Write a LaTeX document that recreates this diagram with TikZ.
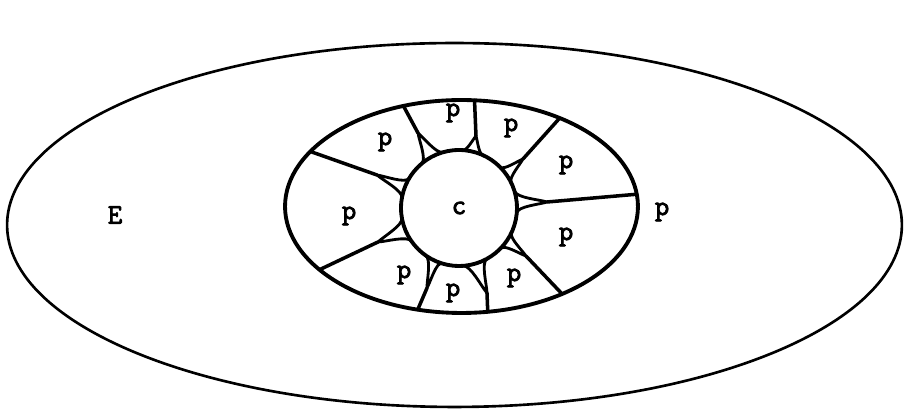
\documentclass[tikz,border=0pt]{standalone}
\usepackage{fontspec}
\newfontfamily\lblfont{Latin Modern Mono}[AutoFakeBold=3]
\usepackage{tikz}
\usetikzlibrary{shapes.geometric}

\begin{document}
\begin{tikzpicture}[x=0.02cm, y=0.02cm, line join=round, line cap=round,
        lbl/.style={font=\lblfont\bfseries\fontsize{16}{18}\selectfont},
        divider/.style={line width=2pt},
        branch/.style={line width=1.6pt, looseness=0.55}]
        \useasboundingbox (-459,-203) rectangle (445,208);
        % outer region, inner ellipse and the core
        \node[draw, ellipse, line width=1.5pt, outer sep=0pt, minimum width=17.9cm, minimum height=7.28cm]
              (env) at (-4.5,-17) {};
        \node[draw, ellipse, line width=2.2pt, outer sep=0pt, minimum width=7.06cm, minimum height=4.26cm]
              (shell) at (2.5,1.5) {};
        \node[draw, circle, line width=2.2pt, outer sep=0pt, minimum size=2.32cm, lbl]
              (core) at (0,0) {c};
        % junctions where the walls split
        \coordinate (j1) at (-82,33);
        \coordinate (j2) at (-41,75);
        \coordinate (j3) at (17,72);
        \coordinate (j4) at (64,49);
        \coordinate (j5) at (88,6);
        \coordinate (j6) at (67,-48);
        \coordinate (j7) at (28,-85);
        \coordinate (j8) at (-32,-80);
        \coordinate (j9) at (-81,-34);
        % walls between the petals
        \draw[divider] (shell.160) -- (j1);
        \draw[divider] (shell.120) -- (j2);
        \draw[divider] (shell.83) -- (j3);
        \draw[divider] (shell.42) -- (j4);
        \draw[divider] (shell.4) -- (j5);
        \draw[divider] (shell.-41) -- (j6);
        \draw[divider] (shell.-76) -- (j7);
        \draw[divider] (shell.-113) -- (j8);
        \draw[divider] (shell.204) -- (j9);
        \draw[branch] (core.149) to[out=239, in=-6] (j1) to[out=-43, in=80] (core.170);
        \draw[branch] (core.106) to[out=196, in=-38] (j2) to[out=-83, in=40] (core.130);
        \draw[branch] (core.66) to[out=156, in=-71] (j3) to[out=227, in=-4] (core.86);
        \draw[branch] (core.26) to[out=116, in=243] (j4) to[out=199, in=-45] (core.45);
        \draw[branch] (core.-5) to[out=85, in=200] (j5) to[out=161, in=-73] (core.17);
        \draw[branch] (core.-44) to[out=46, in=163] (j6) to[out=122, in=-115] (core.-25);
        \draw[branch] (core.-86) to[out=4, in=132] (j7) to[out=90, in=-151] (core.-61);
        \draw[branch] (core.235) to[out=325, in=92] (j8) to[out=58, in=163] (core.253);
        \draw[branch] (core.190) to[out=280, in=45] (j9) to[out=1, in=125] (core.215);
        % labels
        \node[lbl] (pul) at (-74,66) {p};
        \node[lbl] (ptop) at (-6,95) {p};
        \node[lbl] (ptr) at (52,80) {p};
        \node[lbl] (pru) at (107,43) {p};
        \node[lbl] (pleft) at (-110,-8) {p};
        \node[lbl] (prl) at (107,-29) {p};
        \node[lbl] (pbl) at (-55,-67) {p};
        \node[lbl] (pbot) at (-6,-85) {p};
        \node[lbl] (pbr) at (55,-70) {p};
        \node[lbl] (pout) at (203,-4) {p};
        \node[lbl] (ext) at (-344,-7) {E};
      \end{tikzpicture}
\end{document}
